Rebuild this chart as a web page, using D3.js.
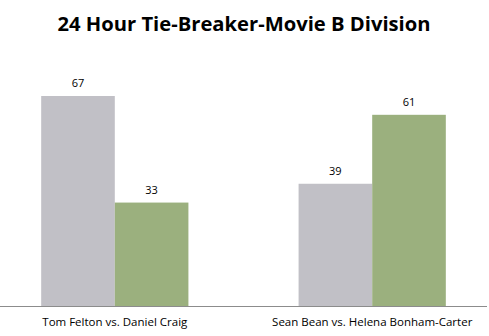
<!DOCTYPE html>
<html>
<head>
<meta charset="utf-8">
<script src="https://cdn.jsdelivr.net/npm/d3@7"></script>
<style>
  html, body { margin: 0; padding: 0; background: #fff; }
  svg { display: block; }
</style>
</head>
<body>
<div id="chart"></div>
<script>
// Match-up data
const categories = ["Tom Felton vs. Daniel Craig", "Sean Bean vs. Helena Bonham-Carter"];
const seriesNames = ["First", "Second"];
const firstValues = [67, 39];
const secondValues = [33, 61];
const seriesColors = ["#C1C0C6", "#9BB07E"];
const titleText = "24 Hour Tie-Breaker-Movie B Division";

const width = 489, height = 336;
const baseline = 306;

const svg = d3.select("#chart").append("svg")
  .attr("width", width)
  .attr("height", height);

const x0 = d3.scaleBand()
  .domain(categories)
  .range([0, 487])
  .paddingInner(0.428)
  .paddingOuter(0.16);

const x1 = d3.scaleBand()
  .domain(seriesNames)
  .range([0, x0.bandwidth()])
  .padding(0);

const y = d3.scaleLinear()
  .domain([0, 67])
  .range([baseline, 96]);

const rows = categories.map((c, i) => ({
  category: c,
  values: [
    { key: seriesNames[0], value: firstValues[i], color: seriesColors[0] },
    { key: seriesNames[1], value: secondValues[i], color: seriesColors[1] }
  ]
}));

// Title
svg.append("text")
  .attr("x", 244)
  .attr("y", 31)
  .attr("text-anchor", "middle")
  .style("font-family", "'Open Sans', sans-serif")
  .style("font-weight", "bold")
  .style("font-size", "20.2px")
  .attr("fill", "#000")
  .text(titleText);

// Bars
const groups = svg.selectAll("g.group")
  .data(rows)
  .join("g")
  .attr("class", "group")
  .attr("transform", d => `translate(${x0(d.category)},0)`);

groups.selectAll("rect")
  .data(d => d.values)
  .join("rect")
  .attr("x", d => x1(d.key))
  .attr("y", d => y(d.value))
  .attr("width", x1.bandwidth())
  .attr("height", d => baseline - y(d.value))
  .attr("fill", d => d.color);

// Value labels
groups.selectAll("text.value")
  .data(d => d.values)
  .join("text")
  .attr("class", "value")
  .attr("x", d => x1(d.key) + x1.bandwidth() / 2)
  .attr("y", d => y(d.value) - 9)
  .attr("text-anchor", "middle")
  .style("font-family", "'Open Sans', sans-serif")
  .style("font-size", "11px")
  .attr("fill", "#000")
  .text(d => d.value);

// Category axis
const axis = svg.append("g")
  .attr("transform", `translate(0,${baseline})`)
  .call(d3.axisBottom(x0).tickSize(0).tickPadding(12));
axis.select(".domain")
  .attr("d", `M0,0.5H487`)
  .attr("stroke", "#8c8c8c");
axis.selectAll("text")
  .style("font-family", "'Open Sans', sans-serif")
  .style("font-size", "11.5px")
  .attr("fill", "#000");
</script>
</body>
</html>
